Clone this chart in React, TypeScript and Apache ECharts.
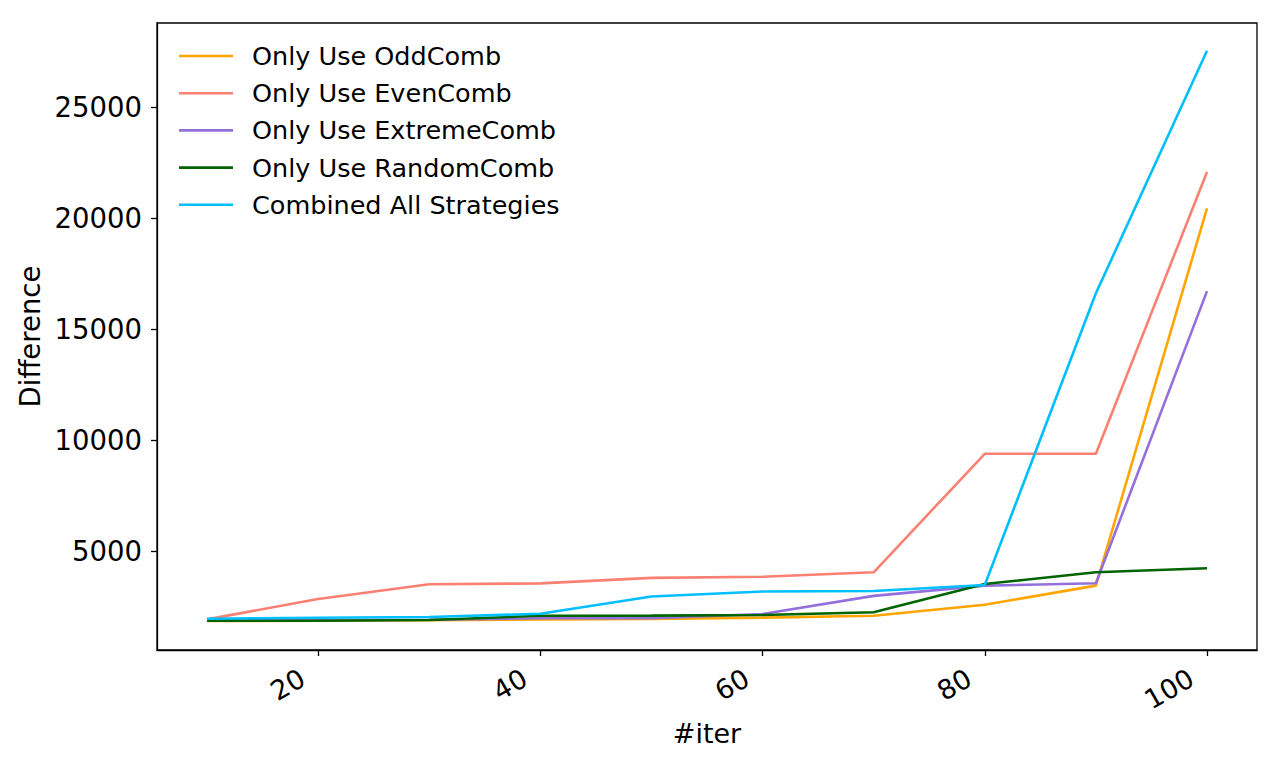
import React, { useEffect, useRef } from "react";
import * as echarts from "echarts";

// Iteration counts on the x axis
const iterations = [10, 20, 30, 40, 50, 60, 70, 80, 90, 100];

// Difference reached by each strategy
const oddComb = [1850, 1860, 1880, 1920, 1940, 2000, 2080, 2580, 3440, 20440];
const evenComb = [1920, 2840, 3500, 3540, 3790, 3840, 4040, 9380, 9380, 22080];
const extremeComb = [1870, 1880, 1900, 1970, 1970, 2160, 2980, 3440, 3545, 16710];
const randomComb = [1860, 1860, 1890, 2080, 2090, 2120, 2240, 3510, 4040, 4220];
const combinedAll = [1950, 1995, 2030, 2170, 2950, 3175, 3200, 3470, 16610, 27540];

// Tick positions
const xTicks = [20, 40, 60, 80, 100];
const yTicks = [5000, 10000, 15000, 20000, 25000];

const seriesDefs = [
  { name: "Only Use OddComb", data: oddComb, color: "#FFA500" },
  { name: "Only Use EvenComb", data: evenComb, color: "#FA8072" },
  { name: "Only Use ExtremeComb", data: extremeComb, color: "#9370DB" },
  { name: "Only Use RandomComb", data: randomComb, color: "#006400" },
  { name: "Combined All Strategies", data: combinedAll, color: "#00BFFF" },
];

const FONT = "DejaVu Sans";

export default function App() {
  const ref = useRef<HTMLDivElement>(null);

  useEffect(() => {
    if (!ref.current) return;
    const chart = echarts.init(ref.current, null, { renderer: "svg" });
    chart.setOption({
      animation: false,
      backgroundColor: "#ffffff",
      grid: {
        left: 157,
        right: 23,
        top: 23,
        bottom: 118,
        show: true,
        borderColor: "#000",
        borderWidth: 1.3,
        backgroundColor: "transparent",
      },
      legend: {
        orient: "vertical",
        left: 179,
        top: 43,
        padding: 0,
        itemWidth: 54,
        itemHeight: 2.6,
        itemGap: 11.2,
        textStyle: {
          fontFamily: FONT,
          fontSize: 25.5,
          color: "#000",
          lineHeight: 25.5,
          padding: [0, 0, 0, 14],
        },
        data: seriesDefs.map((s) => ({ name: s.name, icon: "rect", itemStyle: { color: s.color } })),
        itemStyle: { borderWidth: 0 },
      },
      xAxis: {
        type: "value",
        min: 5.5,
        max: 104.5,
        name: "#iter",
        nameLocation: "middle",
        nameGap: 70,
        nameTextStyle: { fontFamily: FONT, fontSize: 27, color: "#000" },
        axisLine: { show: true, onZero: false, lineStyle: { color: "#000", width: 1.3 } },
        axisTick: {
          show: true,
          length: 6,
          lineStyle: { color: "#000", width: 1.3 },
          customValues: xTicks,
        },
        axisLabel: {
          fontFamily: FONT,
          fontSize: 27,
          color: "#000",
          rotate: 30,
          margin: 17,
          padding: [0, 18, 0, 0],
          customValues: xTicks,
          formatter: (v: number) => String(v),
        },
        splitLine: { show: false },
      },
      yAxis: {
        type: "value",
        min: 540,
        max: 28790,
        name: "Difference",
        nameLocation: "middle",
        nameGap: 97,
        nameTextStyle: { fontFamily: FONT, fontSize: 27.5, color: "#000" },
        axisLine: { show: true, onZero: false, lineStyle: { color: "#000", width: 1.3 } },
        axisTick: {
          show: true,
          length: 6,
          lineStyle: { color: "#000", width: 1.3 },
          customValues: yTicks,
        },
        axisLabel: {
          fontFamily: FONT,
          fontSize: 27.5,
          color: "#000",
          margin: 15,
          customValues: yTicks,
          formatter: (v: number) => String(v),
        },
        splitLine: { show: false },
      },
      series: seriesDefs.map((s) => ({
        name: s.name,
        type: "line",
        data: iterations.map((x, i) => [x, s.data[i]]),
        symbol: "none",
        showSymbol: false,
        color: s.color,
        lineStyle: { color: s.color, width: 2.6 },
        emphasis: { disabled: true },
      })),
    });
    return () => chart.dispose();
  }, []);

  return (
    <div
      ref={ref}
      style={{ position: "fixed", left: 0, top: 0, width: 1280, height: 768, background: "#fff" }}
    />
  );
}
